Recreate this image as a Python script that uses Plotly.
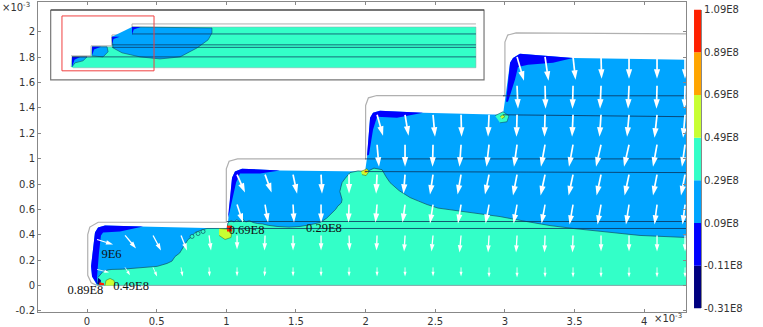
import plotly.graph_objects as go

# ---- colour scale levels (×1E8) ----
levels = [-0.31, -0.11, 0.09, 0.29, 0.49, 0.69, 0.89, 1.09]
level_labels = ["-0.31E8", "-0.11E8", "0.09E8", "0.29E8", "0.49E8", "0.69E8", "0.89E8", "1.09E8"]
level_colors = ["#00007F", "#0000FF", "#00A5FF", "#33FFC8", "#C8FF33", "#FFA500", "#FF2000"]
NAVY, BLUE, AZURE, TEAL, LIME, ORANGE, RED = level_colors

# ---- main geometry (units of 1e-3) ----
outline_x = [0.07, 0.03, 0.005, 0.005, 0.02, 0.08, 1.0, 1.0, 1.02, 1.08, 2.0, 2.0, 2.02, 2.08, 3.0, 3.0, 3.02, 3.08, 4.3]
outline_y = [0.0, 0.02, 0.08, 0.40, 0.46, 0.498, 0.498, 0.92, 0.98, 0.998, 0.998, 1.42, 1.48, 1.498, 1.498, 1.92, 1.975, 1.992, 1.985]

body_x = [0.072, 0.036, 0.029, 0.057, 0.079, 0.129, 0.380, 1.005, 1.012, 1.041, 1.062, 1.113, 1.385, 1.996, 2.010, 2.032, 2.053, 2.103, 2.412, 2.986, 3.037, 3.058, 3.108, 3.489, 3.970, 4.300, 4.300]
body_y = [0.0, 0.071, 0.150, 0.417, 0.457, 0.472, 0.465, 0.449, 0.496, 0.850, 0.898, 0.921, 0.906, 0.898, 1.008, 1.323, 1.362, 1.378, 1.362, 1.346, 1.756, 1.795, 1.827, 1.795, 1.787, 1.780, 0.0]

front_x = [0.079, 0.115, 0.150, 0.179, 0.255, 0.330, 0.420, 0.503, 0.574, 0.610, 0.632, 0.665, 0.689, 0.725, 0.745, 0.775, 0.820, 0.861, 1.005, 1.012, 1.035, 1.055, 1.075, 1.098, 1.120, 1.140, 1.165, 1.192, 1.225, 1.260, 1.300, 1.364, 1.450, 1.529, 1.600, 1.673, 1.720, 1.766, 1.785, 1.800, 1.825, 1.831, 1.815, 1.822, 1.831, 1.850, 1.888, 1.945, 2.010, 2.060, 2.118, 2.145, 2.175, 2.240, 2.319, 2.380, 2.441, 2.520, 2.606, 2.780, 2.965, 3.150, 3.324, 3.500, 3.683, 3.830, 3.970, 4.300]
front_y = [0.063, 0.110, 0.122, 0.126, 0.128, 0.134, 0.138, 0.150, 0.173, 0.192, 0.228, 0.255, 0.299, 0.362, 0.378, 0.417, 0.435, 0.449, 0.449, 0.496, 0.512, 0.500, 0.518, 0.504, 0.522, 0.500, 0.512, 0.496, 0.488, 0.485, 0.474, 0.465, 0.460, 0.465, 0.478, 0.496, 0.530, 0.575, 0.600, 0.625, 0.650, 0.677, 0.740, 0.775, 0.811, 0.840, 0.890, 0.903, 0.898, 0.925, 0.913, 0.860, 0.811, 0.748, 0.693, 0.665, 0.638, 0.610, 0.598, 0.570, 0.543, 0.505, 0.472, 0.448, 0.425, 0.408, 0.394, 0.378]

blue_patches = [
    ([0.072, 0.036, 0.029, 0.057, 0.079, 0.129, 0.402, 0.237, 0.115, 0.100, 0.086, 0.072],
     [0.008, 0.071, 0.150, 0.417, 0.457, 0.472, 0.465, 0.425, 0.417, 0.394, 0.260, 0.071]),
    ([1.012, 1.041, 1.062, 1.113, 1.385, 1.242, 1.098, 1.070, 1.019],
     [0.535, 0.850, 0.898, 0.921, 0.906, 0.882, 0.882, 0.811, 0.559]),
    ([2.010, 2.032, 2.053, 2.103, 2.412, 2.225, 2.082, 2.053, 2.024],
     [1.024, 1.323, 1.362, 1.378, 1.362, 1.323, 1.331, 1.228, 1.031]),
    ([3.008, 3.037, 3.058, 3.108, 3.489, 3.345, 3.166, 3.094, 3.072, 3.022],
     [1.449, 1.756, 1.795, 1.827, 1.795, 1.756, 1.740, 1.724, 1.622, 1.449]),
]

corner_spot_x = [0.072, 0.096, 0.100, 0.080]
corner_spot_y = [0.008, 0.004, 0.040, 0.060]

teal_blob_x = [2.929, 2.986, 3.029, 3.015, 2.965]
teal_blob_y = [1.339, 1.370, 1.339, 1.291, 1.283]
teal_dots_x = [0.754, 0.797, 0.833]
teal_dots_y = [0.386, 0.409, 0.425]

lime_patches = [
    ([0.129, 0.136, 0.165, 0.194, 0.201], [0.0, 0.039, 0.055, 0.039, 0.0]),
    ([0.948, 1.041, 1.034, 0.991, 0.948], [0.449, 0.441, 0.378, 0.362, 0.394]),
    ([1.967, 2.010, 2.024, 2.003, 1.974], [0.898, 0.921, 0.898, 0.866, 0.874]),
    ([2.965, 2.986, 3.000, 2.979], [1.331, 1.346, 1.331, 1.315]),
]
red_patches = [
    ([0.086, 0.122, 0.122, 0.090], [0.004, 0.004, 0.016, 0.024]),
    ([1.005, 1.041, 1.041, 1.005], [0.472, 0.472, 0.425, 0.425]),
]
orange_dot_x = [2.000]
orange_dot_y = [0.898]

seam_lines = [
    ([2.986, 4.300], [1.496, 1.496]),
    ([2.986, 4.300], [1.346, 1.331]),
    ([1.996, 4.300], [0.998, 0.998]),
    ([1.996, 4.300], [0.898, 0.890]),
    ([1.003, 4.300], [0.504, 0.504]),
    ([1.003, 4.300], [0.449, 0.449]),
]

# ---- inset ----
frame_x = [-0.261, 2.850, 2.850, -0.261, -0.261]
frame_y = [2.173, 2.173, 1.622, 1.622, 2.173]
zoom_box_x = [-0.180, 0.481, 0.481, -0.180, -0.180]
zoom_box_y = [2.126, 2.126, 1.693, 1.693, 2.126]
inset_body_x = [-0.115, -0.108, 0.029, 0.036, 0.179, 0.179, 0.323, 0.323, 2.792, 2.792, -0.101]
inset_body_y = [1.724, 1.803, 1.803, 1.882, 1.882, 1.961, 1.961, 2.039, 2.039, 1.717, 1.717]
inset_azure = [
    ([0.323, 0.897, 0.897, 0.869, 0.790, 0.668, 0.524, 0.380, 0.251, 0.187, 0.179],
     [2.039, 2.031, 1.992, 1.937, 1.874, 1.803, 1.787, 1.803, 1.835, 1.874, 1.961]),
    ([0.036, 0.144, 0.151, 0.115, 0.036], [1.882, 1.882, 1.843, 1.803, 1.811]),
    ([-0.108, 0.0, -0.029, -0.086, -0.108], [1.803, 1.803, 1.772, 1.756, 1.724]),
]
inset_blue = [
    ([-0.108, -0.050, -0.090, -0.100, -0.108], [1.803, 1.803, 1.780, 1.750, 1.724]),
    ([0.036, 0.100, 0.050, 0.043, 0.036], [1.882, 1.882, 1.862, 1.835, 1.811]),
    ([0.179, 0.235, 0.190, 0.185, 0.179], [1.961, 1.961, 1.945, 1.920, 1.898]),
    ([0.323, 0.385, 0.335, 0.330, 0.323], [2.039, 2.039, 2.020, 1.995, 1.976]),
]
inset_outline_x = [-0.115, 0.029, 0.029, 0.179, 0.179, 0.323, 0.323, 2.792]
inset_outline_y = [1.811, 1.811, 1.890, 1.890, 1.976, 1.976, 2.063, 2.063]
inset_lines = [
    ([0.323, 2.792], [1.984, 1.984]),
    ([0.179, 2.792], [1.898, 1.898]),
    ([0.179, 2.792], [1.878, 1.878]),
    ([-0.108, 2.792], [1.803, 1.803]),
]

# ---- arrows: column positions, then rows (y, first column, u, v, shaft width, head size) ----
arrow_cols = [0.072, 0.273, 0.474, 0.675, 0.876, 1.077, 1.278, 1.479, 1.680, 1.881, 2.082,
              2.283, 2.484, 2.685, 2.886, 3.087, 3.288, 3.489, 3.690, 3.891, 4.092, 4.293]
arrow_rows = [
    (1.803, 15, [.05, .025, .018, .004, 0, 0, 0], [.189, .189, .181, .173, .173, .173, .173], 1.7, 10),
    (1.575, 15, [.007, .004, -.004, -.007, -.007, -.004, -.004], [.181, .181, .181, .181, .181, .181, .181], 1.7, 10),
    (1.346, 10, [.043, .025, .014, .004, -.007, -.004, -.004, -.007, -.011, -.014, -.018, -.014],
     [.165, .165, .173, .173, .173, .173, .173, .173, .173, .173, .181, .181], 1.7, 10),
    (1.110, 10, [.014, 0, -.004, -.011, -.018, -.022, -.029, -.029, -.036, -.036, -.029, -.022],
     [.173, .173, .173, .173, .173, .173, .173, .173, .173, .173, .173, .173], 1.7, 10),
    (0.874, 5, [.057, .047, .029, .007, 0, -.007, -.011, -.022, -.025, -.029, -.029, -.032, -.032, -.032, -.032, -.029, -.029],
     [.142, .142, .150, .150, .150, .150, .150, .157, .157, .157, .165, .165, .165, .165, .165, .165, .165], 1.7, 10),
    (0.638, 5, [.043, .022, .007, 0, -.004, -.011, -.018, -.022, -.022, -.025, -.025, -.025, -.025, -.025, -.022, -.018, -.018],
     [.142, .142, .142, .142, .142, .142, .142, .150, .150, .150, .150, .150, .157, .157, .157, .157, .157], 1.6, 9.5),
    (0.362, 0, [.115], [.039], 1.2, 7.5),
    (0.394, 1, [.079, .057, .043, .014, 0, -.004, 0, 0, .004, -.004, -.007, -.011, -.011, -.007, -.007, -.004, -.004, 0, 0, 0, 0],
     [.102, .118, .118, .118, .110, .118, .118, .118, .118, .118, .126, .126, .134, .134, .134, .134, .134, .126, .126, .126, .126], 1.3, 7.5),
    (0.126, 0, [.086], [.024], 0.8, 5),
    (0.142, 1, [.036, .029, .011, .004, 0, -.004, 0, 0, 0, 0, 0, 0, 0, 0, 0, 0, 0, 0, 0, 0, 0],
     [.063, .071, .071, .071, .071, .071, .071, .071, .071, .071, .071, .071, .071, .079, .079, .079, .079, .079, .079, .079, .079], 0.8, 5),
]

# ---- labels ----
label_text = ["0.89E8", "0.49E8", "9E6", "0.69E8", "0.29E8"]
label_x = [-0.011, 0.316, 0.176, 1.145, 1.701]
label_y = [-0.047, -0.008, 0.244, 0.433, 0.449]

x_ticks = [0, 0.5, 1, 1.5, 2, 2.5, 3, 3.5, 4]
x_labels = ["0", "0.5", "1", "1.5", "2", "2.5", "3", "3.5", "4"]
y_ticks = [-0.2, 0, 0.2, 0.4, 0.6, 0.8, 1, 1.2, 1.4, 1.6, 1.8, 2]
y_labels = ["-0.2", "0", "0.2", "0.4", "0.6", "0.8", "1", "1.2", "1.4", "1.6", "1.8", "2"]

fig = go.Figure()


def poly(x, y, fill, line="rgba(0,0,0,0)", width=0):
    fig.add_trace(go.Scatter(x=x, y=y, mode="lines", fill="toself", fillcolor=fill,
                             line=dict(color=line, width=width), hoverinfo="skip"))


def path(x, y, color, width):
    fig.add_trace(go.Scatter(x=x, y=y, mode="lines", line=dict(color=color, width=width), hoverinfo="skip"))


SEAM = "rgba(10,50,90,0.8)"
EDGE = "#B0B0B0"

path(outline_x, outline_y, EDGE, 1.2)
poly(body_x, body_y, AZURE)
poly(front_x + [4.300, 0.072], front_y + [0.0, 0.0], TEAL)
path(front_x, front_y, "#0F4F66", 0.7)
path([0.072, 4.300], [0.0, 0.0], "#999999", 0.8)
for px, py in blue_patches:
    poly(px, py, BLUE)
poly(corner_spot_x, corner_spot_y, NAVY)
poly(teal_blob_x, teal_blob_y, TEAL, "#0F4F66", 0.6)
fig.add_trace(go.Scatter(x=teal_dots_x, y=teal_dots_y, mode="markers", hoverinfo="skip",
                         marker=dict(color=TEAL, size=4, line=dict(color="#0F4F66", width=0.7))))
for px, py in lime_patches:
    poly(px, py, LIME, "#3a5a20", 0.5)
for px, py in red_patches:
    poly(px, py, RED)
fig.add_trace(go.Scatter(x=orange_dot_x, y=orange_dot_y, mode="markers", hoverinfo="skip",
                         marker=dict(color=ORANGE, size=3)))
for px, py in seam_lines:
    path(px, py, SEAM, 1)

# arrows
for row_y, first, us, vs, w, head in arrow_rows:
    for i, (u, v) in enumerate(zip(us, vs)):
        x0 = arrow_cols[first + i]
        fig.add_trace(go.Scatter(x=[x0, x0 + u], y=[row_y, row_y - v], mode="lines+markers", hoverinfo="skip",
                                 line=dict(color="white", width=w),
                                 marker=dict(symbol="arrow", size=[0, head], angleref="previous", opacity=1,
                                             color="white", line=dict(width=0))))

# inset
fig.add_trace(go.Scatter(x=frame_x, y=frame_y, mode="lines", fill="toself", fillcolor="white",
                         line=dict(color="#777777", width=1.2), hoverinfo="skip"))
path(frame_x[:2], frame_y[:2], "#333333", 1.2)
path(inset_outline_x, inset_outline_y, EDGE, 1)
poly(inset_body_x, inset_body_y, TEAL, "#8aa", 0.5)
for px, py in inset_azure:
    poly(px, py, AZURE, "#0F4F66", 0.6)
for px, py in inset_blue:
    poly(px, py, BLUE)
for px, py in inset_lines:
    path(px, py, SEAM, 0.9)
path(zoom_box_x, zoom_box_y, "#F04040", 1)

# labels
fig.add_trace(go.Scatter(x=label_x, y=label_y, mode="text", text=label_text, textposition="middle center",
                         textfont=dict(family="Liberation Serif", size=12.5, color="#111111"), hoverinfo="skip"))

# colour bar
fig.add_trace(go.Bar(x=[0] * 7, y=[levels[i + 1] - levels[i] for i in range(7)], base=levels[:-1],
                     width=1, marker=dict(color=level_colors, line=dict(width=0)),
                     xaxis="x2", yaxis="y2", hoverinfo="skip"))

TICKFONT = dict(family="DejaVu Sans", size=10, color="#333333")
annotations = [
    dict(xref="paper", yref="paper", x=0.9035, y=-0.046, xanchor="right", yanchor="bottom", showarrow=False,
         text="×10<sup>-3</sup>", font=TICKFONT),
    dict(xref="paper", yref="paper", x=-0.0535, y=0.985, xanchor="left", yanchor="middle", showarrow=False,
         text="×10<sup>-3</sup>", font=TICKFONT),
]

AXIS = dict(showgrid=False, zeroline=False, showline=True, linecolor="#888888", linewidth=1,
            mirror="ticks", ticks="inside", ticklen=3, tickcolor="#888888", tickfont=TICKFONT)

fig.update_layout(
    width=763, height=327, margin=dict(l=38, r=10, t=2, b=14.5, autoexpand=False),
    paper_bgcolor="white", plot_bgcolor="white", showlegend=False, barmode="overlay",
    annotations=annotations,
    xaxis=dict(domain=[0, 0.9063], range=[-0.352, 4.30], tickvals=x_ticks, ticktext=x_labels, **AXIS),
    yaxis=dict(range=[-0.21, 2.236], tickvals=y_ticks, ticktext=y_labels, **AXIS),
    xaxis2=dict(domain=[0.9175, 0.9273], range=[-0.5, 0.5], anchor="y2", visible=False),
    yaxis2=dict(domain=[0.0113, 0.9758], range=[-0.31, 1.09], anchor="x2", side="right", tickvals=levels,
                ticktext=level_labels, ticks="", showgrid=False, zeroline=False, showline=True,
                linecolor="#888888", linewidth=1, tickfont=TICKFONT),
)

fig.write_html("out.html", config={"displayModeBar": False},
               post_script="document.body.style.margin='0';document.body.style.overflow='hidden';")
